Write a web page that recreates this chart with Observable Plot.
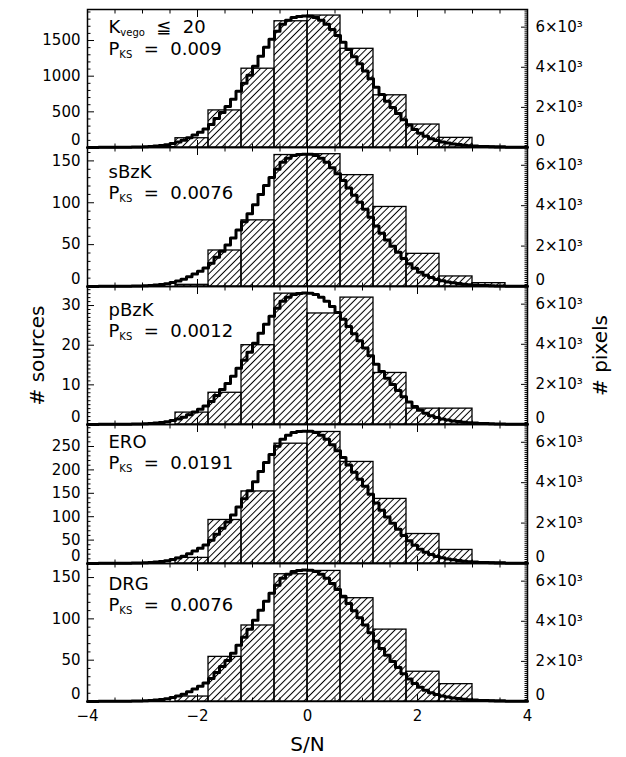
<!DOCTYPE html>
<html><head><meta charset="utf-8">
<script src="https://cdn.jsdelivr.net/npm/d3@7"></script>
<script src="https://cdn.jsdelivr.net/npm/@observablehq/plot@0.6"></script>
<style>
html,body{margin:0;padding:0;background:#fff;}
#chart{width:626px;height:757px;position:relative;overflow:hidden;}
#chart svg{display:block;}
</style></head><body>
<svg width="0" height="0" style="position:absolute"><defs>
<pattern id="hatch" patternUnits="userSpaceOnUse" width="4.7" height="10" patternTransform="rotate(45)">
<line x1="2.35" y1="-1" x2="2.35" y2="11" stroke="#000" stroke-width="1"/>
</pattern></defs></svg>
<div id="chart"></div>
<script>
// ---- data ----
const binLo = [-3.0, -2.4, -1.8, -1.2, -0.6, 0.0, 0.6, 1.2, 1.8, 2.4, 3.0];
const binHi = [-2.4, -1.8, -1.2, -0.6, 0.0, 0.6, 1.2, 1.8, 2.4, 3.0, 3.6];
const countsKvego = [5, 130, 520, 1105, 1770, 1850, 1384, 732, 322, 135, 12];
const countsSBzK  = [0, 2, 43, 79, 157, 158, 133, 95, 39, 12, 4];
const countsPBzK  = [0, 3, 8, 20, 33, 28, 32, 13, 4, 4, 0];
const countsERO   = [0, 12, 93, 154, 256, 281, 217, 138, 63, 29, 2];
const countsDRG   = [0, 6, 54, 92, 154, 158, 125, 87, 36, 21, 1];
const panelNames = ["K{vego}\u00A0\u00A0≦\u00A0\u00A020", "sBzK", "pBzK", "ERO", "DRG"];
const pKS = ["0.009", "0.0076", "0.0012", "0.0191", "0.0076"];

// pixel S/N histogram (bin left edges, counts)
const pixX = [-4.0,-3.9,-3.8,-3.7,-3.6,-3.5,-3.4,-3.3,-3.2,-3.1,
  -3.0,-2.9,-2.8,-2.7,-2.6,-2.5,-2.4,-2.3,-2.2,-2.1,
  -2.0,-1.9,-1.8,-1.7,-1.6,-1.5,-1.4,-1.3,-1.2,-1.1,
  -1.0,-0.9,-0.8,-0.7,-0.6,-0.5,-0.4,-0.3,-0.2,-0.1,
  0.0,0.1,0.2,0.3,0.4,0.5,0.6,0.7,0.8,0.9,
  1.0,1.1,1.2,1.3,1.4,1.5,1.6,1.7,1.8,1.9,
  2.0,2.1,2.2,2.3,2.4,2.5,2.6,2.7,2.8,2.9,
  3.0,3.1,3.2,3.3,3.4,3.5,3.6,3.7,3.8,3.9,4.0];
const pixN = [5,5,8,8,10,12,15,18,22,28,
  35,50,70,100,140,200,270,360,480,620,
  760,920,1150,1450,1750,2050,2400,2800,3200,3600,
  4050,4550,5000,5400,5800,6150,6350,6480,6530,6550,
  6540,6480,6350,6150,5880,5580,5250,4880,4520,4170,
  3820,3430,3000,2640,2300,1990,1700,1380,1120,900,
  710,560,440,350,280,225,180,145,115,90,
  70,55,45,35,28,22,17,13,10,8,8];

const leftTicks = [[0,500,1000,1500],[0,50,100,150],[0,10,20,30],[0,50,100,150,200,250],[0,50,100,150]];
const rightTicks = [0, 2000, 4000, 6000];
const rightTickLabels = ["0", "2×10³", "4×10³", "6×10³"];
const xMajor = [-4, -2, 0, 2, 4];
const xMinor = [-3.5,-3,-2.5,-1.5,-1,-0.5,0.5,1,1.5,2.5,3,3.5];

// ---- layout config ----
const counts = [countsKvego, countsSBzK, countsPBzK, countsERO, countsDRG];
const leftMax = [1935, 166, 34.8, 297, 167];
const leftMinorStep = [100, 10, 1, 10, 10];
const rightMax = 6880;
const frameH = [138, 139, 138, 139, 138];
const textDy = [[23, 45], [30, 51], [29, 50], [23, 44], [26, 47]];
const FONT = "DejaVu Sans";

const chart = document.getElementById("chart");
const blank = () => "";
const intFmt = d3.format("d");

for (let i = 0; i < 5; i++) {
  const mt = i === 0 ? 9 : 0, mb = i === 4 ? 56 : 0;
  const L = leftMax[i], k = L / rightMax;
  const bins = binLo.map((lo, j) => ({lo, hi: binHi[j], n: counts[i][j]}));
  const pix = pixX.map((x, j) => ({x, n: pixN[j] * k}));
  const lMinor = d3.range(0, L, leftMinorStep[i]).filter(v => !leftTicks[i].includes(v));
  const rMinor = d3.range(0, rightMax, 100).filter(v => !rightTicks.includes(v)).map(v => v * k);
  const marks = [
    Plot.rect(bins, {x1: "lo", x2: "hi", y1: 0, y2: "n", fill: "url(#hatch)", stroke: "#000", strokeWidth: 1.3}),
    Plot.text([panelNames[i]], {frameAnchor: "top-left", dx: 21, dy: textDy[i][0], text: d => d, textAnchor: "start", lineAnchor: "bottom", fontSize: 18}),
    Plot.text([`P{KS}\u00A0\u00A0=\u00A0\u00A0${pKS[i]}`], {frameAnchor: "top-left", dx: 21, dy: textDy[i][1], text: d => d, textAnchor: "start", lineAnchor: "bottom", fontSize: 18}),
    Plot.line(pix, {x: "x", y: "n", curve: "step-after", stroke: "#000", strokeWidth: 3}),
    Plot.frame({stroke: "#000", strokeWidth: 1.5}),
    // left axis
    Plot.axisY(leftTicks[i], {anchor: "left", tickSize: -7, tickFormat: blank, label: null}),
    Plot.axisY(lMinor, {anchor: "left", tickSize: -3.5, tickFormat: blank, label: null}),
    Plot.axisY(leftTicks[i].filter(v => v !== 0), {anchor: "left", tickSize: 0, tickPadding: 7, label: null, fontSize: 15, tickFormat: intFmt}),
    Plot.axisY([0], {anchor: "left", tickSize: 0, tickPadding: 7, dy: -7, label: null, fontSize: 15, tickFormat: intFmt}),
    // right axis
    Plot.axisY(rightTicks.map(v => v * k), {anchor: "right", tickSize: -7, tickFormat: blank, label: null}),
    Plot.axisY(rMinor, {anchor: "right", tickSize: -3.5, tickFormat: blank, label: null}),
    Plot.axisY(rightTicks.slice(1).map(v => v * k), {anchor: "right", tickSize: 0, tickPadding: 8, label: null, fontSize: 15,
      tickFormat: v => rightTickLabels[rightTicks.indexOf(Math.round(v / k / 1000) * 1000)]}),
    Plot.axisY([0], {anchor: "right", tickSize: 0, tickPadding: 8, dy: -6, label: null, fontSize: 15, tickFormat: () => "0"}),
    // x ticks top & bottom
    Plot.axisX(xMajor, {anchor: "bottom", tickSize: -7, tickFormat: blank, label: null}),
    Plot.axisX(xMinor, {anchor: "bottom", tickSize: -3.5, tickFormat: blank, label: null}),
    Plot.axisX(xMajor, {anchor: "top", tickSize: -7, tickFormat: blank, label: null}),
    Plot.axisX(xMinor, {anchor: "top", tickSize: -3.5, tickFormat: blank, label: null})
  ];
  if (i === 2) {
    marks.push(Plot.text(["# sources"], {frameAnchor: "left", dx: -50, rotate: -90, text: d => d, fontSize: 20, textAnchor: "middle", lineAnchor: "middle"}));
    marks.push(Plot.text(["# pixels"], {frameAnchor: "right", dx: 73, rotate: -90, text: d => d, fontSize: 20, textAnchor: "middle", lineAnchor: "middle"}));
  }
  if (i === 4) {
    marks.push(Plot.axisX(xMajor, {anchor: "bottom", tickSize: 0, tickPadding: 9, label: null, fontSize: 15}));
    marks.push(Plot.text(["S/N"], {frameAnchor: "bottom", dy: 43, text: d => d, fontSize: 20, lineAnchor: "middle"}));
  }
  const svg = Plot.plot({
    width: 626,
    height: frameH[i] + mt + mb,
    marginLeft: 87, marginRight: 99, marginTop: mt, marginBottom: mb,
    x: {domain: [-4, 4], axis: null},
    y: {domain: [0, L], axis: null},
    style: {background: "transparent", overflow: "visible", fontFamily: FONT, color: "#000"},
    marks
  });
  // rich text: subscripts written as {...}
  d3.select(svg).selectAll("text").each(function () {
    const s = this.textContent;
    if (!s.includes("{")) return;
    const sel = d3.select(this);
    sel.text(null);
    let shifted = false;
    s.split(/(\{[^}]*\})/).filter(p => p.length).forEach(p => {
      if (p.startsWith("{")) {
        sel.append("tspan").attr("font-size", 10).attr("dy", 3).text(p.slice(1, -1));
        shifted = true;
      } else {
        sel.append("tspan").attr("dy", shifted ? -3 : 0).text(p);
        shifted = false;
      }
    });
  });
  chart.appendChild(svg);
}
</script>
</body></html>
